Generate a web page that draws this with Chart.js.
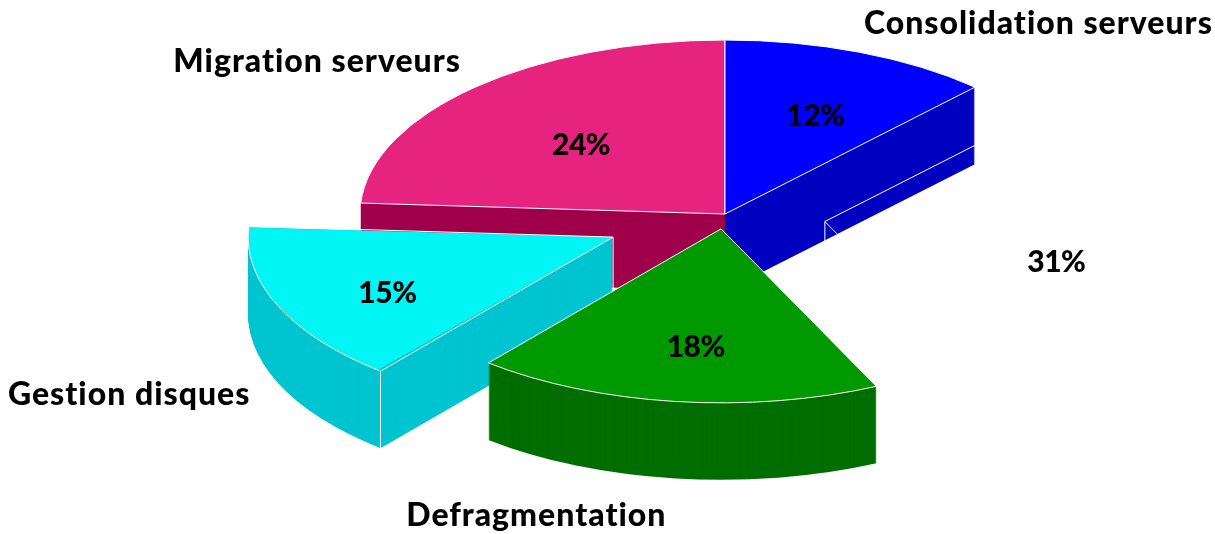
<!DOCTYPE html>
<html lang="fr">
<head>
<meta charset="utf-8">
<title>Répartition</title>
<script src="https://cdn.jsdelivr.net/npm/chart.js@4"></script>
<style>
  html, body { margin: 0; background: #fff; }
  canvas { display: block; }
</style>
</head>
<body>
<canvas id="pie" width="1215" height="534"></canvas>
<script>
// data
const categories = ["Consolidation serveurs", "", "Defragmentation", "Gestion disques", "Migration serveurs"];
const shares = [12, 31, 18, 15, 24];
const explode = [0, 0.277, 0.086, 0.334, 0];
const topColors = ["#0000ff", "rgba(255,255,255,0)", "#009900", "#00f5f5", "#e62480"];
const sideColors = ["#0000c0", "rgba(255,255,255,0)", "#006e00", "#00c4d0", "#a0004b"];

// painted back to front
const drawOrder = [4, 0, 1, 3, 2];
// white vertical edges on the side faces
const apexEdge = [false, true, false, true, false];
const startEdge = [false, false, false, true, false];

// label nudges in px, from the slice rim (names) and from 0.62 of the radius (percentages)
const nameNudge = [[179, -29], [0, 0], [-139, 114], [-149, 89], [-158, -25]];
const pctNudge = [[7, 3], [8, 24], [3, 11], [-18, 13], [11, 10]];

// the flattened pie
const RADIUS = 200;
const CX = 725, CY = 214, RX = 365, RY = 174, DEPTH = 77;

// where the slice apex lands on the page once flattened
function apex(arc) {
  const mid = (arc.startAngle + arc.endAngle) / 2;
  const push = (arc.options.offset || 0) / 4 / arc.outerRadius;
  return { x: CX + Math.cos(mid) * push * RX, y: CY + Math.sin(mid) * push * RY, mid };
}

function traceSlice(ctx, arc, drop) {
  const a = apex(arc);
  ctx.beginPath();
  ctx.moveTo(a.x, a.y + drop);
  ctx.ellipse(a.x, a.y + drop, RX, RY, 0, arc.startAngle, arc.endAngle);
  ctx.closePath();
}

function rimPoint(arc, reach) {
  const a = apex(arc);
  return { x: a.x + Math.cos(a.mid) * RX * reach, y: a.y + Math.sin(a.mid) * RY * reach };
}

function verticalEdge(ctx, x, y) {
  ctx.beginPath();
  ctx.moveTo(x, y);
  ctx.lineTo(x, y + DEPTH);
  ctx.stroke();
}

const flatPie = {
  id: "flatPie",
  beforeDatasetsDraw(chart) {
    const ctx = chart.ctx;
    const arcs = chart.getDatasetMeta(0).data;
    ctx.strokeStyle = "#fff";
    ctx.lineWidth = 1;

    // side faces: sweep every slice down, then its white edges
    drawOrder.forEach((i) => {
      const arc = arcs[i];
      ctx.fillStyle = sideColors[i];
      for (let d = DEPTH; d > 0; d--) {
        traceSlice(ctx, arc, d);
        ctx.fill();
      }
      const a = apex(arc);
      if (apexEdge[i]) verticalEdge(ctx, a.x, a.y);
      if (startEdge[i]) {
        verticalEdge(ctx, a.x + Math.cos(arc.startAngle) * RX, a.y + Math.sin(arc.startAngle) * RY);
      }
    });

    // top faces go through the library, squeezed into the ellipse.
    // ArcElement.draw moves the arc by offset/4 and grows its radius by offset/4 * fix
    drawOrder.forEach((i) => {
      const arc = arcs[i];
      const a = apex(arc);
      const o = (arc.options.offset || 0) / 4;
      const fix = 1 - Math.sin(Math.min(Math.PI, arc.circumference));
      const r = arc.outerRadius + o * fix;
      ctx.save();
      ctx.translate(a.x, a.y);
      ctx.scale(RX / r, RY / r);
      ctx.translate(-arc.x - Math.cos(a.mid) * o, -arc.y - Math.sin(a.mid) * o);
      arc.draw(ctx);
      ctx.restore();
      traceSlice(ctx, arc, 0);
      ctx.stroke();
    });
    return false;
  },
  afterDraw(chart) {
    const ctx = chart.ctx;
    const arcs = chart.getDatasetMeta(0).data;
    ctx.save();
    ctx.fillStyle = "#000";
    ctx.textAlign = "center";
    ctx.textBaseline = "middle";
    arcs.forEach((arc, i) => {
      const rim = rimPoint(arc, 1);
      ctx.font = "900 32px Lato";
      ctx.letterSpacing = "1px";
      ctx.fillText(categories[i], rim.x + nameNudge[i][0], rim.y + nameNudge[i][1]);
      const p = rimPoint(arc, 0.62);
      ctx.font = "900 30px Lato";
      ctx.letterSpacing = "-0.5px";
      ctx.fillText(shares[i] + "%", p.x + pctNudge[i][0], p.y + pctNudge[i][1]);
    });
    ctx.restore();
  }
};

new Chart(document.getElementById("pie"), {
  type: "pie",
  data: {
    labels: categories,
    datasets: [{
      data: shares,
      backgroundColor: topColors,
      borderWidth: 0,
      radius: RADIUS,
      offset: explode.map((e) => e * RADIUS * 4)
    }]
  },
  options: {
    responsive: false,
    animation: false,
    events: [],
    plugins: { legend: { display: false }, tooltip: { enabled: false } }
  },
  plugins: [flatPie]
});
</script>
</body>
</html>
